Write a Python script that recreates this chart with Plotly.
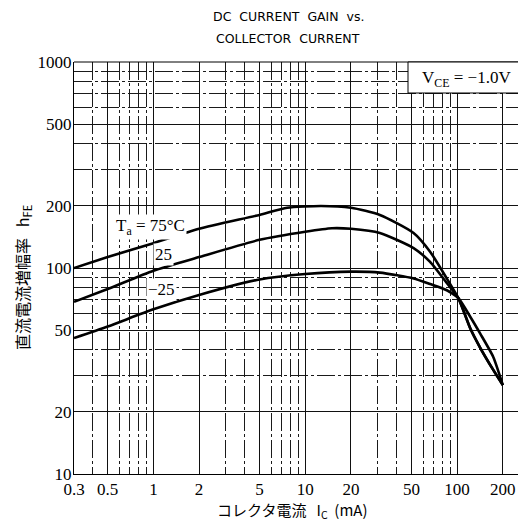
import plotly.graph_objects as go
import numpy as np

# ---- data ----
ic_75 = [0.3, 0.5, 1, 2, 5, 7.6, 12.7, 20, 31, 51.7, 66.4, 85.5, 102, 122, 142, 173, 200]
hfe_75 = [100, 113, 132, 155, 181, 196, 200, 196, 181, 148, 120, 89, 71.3, 51, 41, 32, 27]

ic_25 = [0.3, 0.5, 1, 2, 5, 10, 15, 20, 31, 51.7, 66.4, 85.5, 102, 122, 142, 173, 200]
hfe_25 = [68.5, 79, 97, 113, 137, 150, 156, 155, 148, 125, 107, 84.5, 71.3, 51, 41, 32, 27]

ic_m25 = [0.3, 0.5, 1, 2, 5, 10, 20, 31, 51.7, 66.4, 85.5, 102, 122, 142, 173, 200]
hfe_m25 = [45.7, 52, 63, 74, 88, 93.5, 96, 95, 89, 83.6, 78, 71.3, 58, 48, 37, 27]

x_major = [0.3, 0.5, 1, 2, 5, 10, 20, 50, 100, 200]
x_major_text = ["0.3", "0.5", "1", "2", "5", "10", "20", "50", "100", "200"]
y_major = [10, 20, 50, 100, 200, 500, 1000]
y_major_text = ["10", "20", "50", "100", "200", "500", "1000"]

x_minor = [m * d for d in [0.1, 1, 10, 100] for m in range(1, 10)
           if 0.3 <= m * d <= 300 and not any(abs(m * d - v) < 1e-9 for v in x_major)]
y_minor = [m * d for d in [10, 100] for m in range(1, 10)
           if not any(abs(m * d - v) < 1e-9 for v in y_major)]

fig = go.Figure()
for xs, ys in [(ic_75, hfe_75), (ic_25, hfe_25), (ic_m25, hfe_m25)]:
    fig.add_trace(go.Scatter(x=xs, y=ys, mode="lines",
                             line=dict(color="black", width=2.6, shape="spline", smoothing=0.6),
                             showlegend=False, hoverinfo="skip"))

serif = "Liberation Serif, Times New Roman, serif"
dash = "18px,3px,3px,3px"
fig.update_layout(
    width=510, height=514,
    margin=dict(l=66, r=0, t=54, b=48, pad=0),
    paper_bgcolor="white", plot_bgcolor="white",
    font=dict(family=serif, size=17, color="black"),
    xaxis=dict(type="log", range=[np.log10(0.3), 2.401],
               tickmode="array", tickvals=x_major, ticktext=x_major_text,
               showgrid=True, gridcolor="#111", gridwidth=1,
               showline=True, linecolor="black", linewidth=1,
               ticks="", tickfont=dict(family=serif, size=17),
               minor=dict(tickmode="array", tickvals=x_minor, showgrid=True,
                          gridcolor="#1a1a1a", gridwidth=1, griddash=dash, ticks=""),
               zeroline=False),
    yaxis=dict(type="log", range=[1, 3],
               tickmode="array", tickvals=y_major, ticktext=y_major_text,
               showgrid=True, gridcolor="#111", gridwidth=1,
               showline=True, linecolor="black", linewidth=1,
               ticks="", tickfont=dict(family=serif, size=17), ticklabelstandoff=-2,
               minor=dict(tickmode="array", tickvals=y_minor, showgrid=True,
                          gridcolor="#1a1a1a", gridwidth=1, griddash=dash, ticks=""),
               zeroline=False),
)

# top border line
fig.add_shape(type="line", xref="paper", yref="paper", x0=0, x1=1, y0=1, y1=1,
              line=dict(color="black", width=1))

# V_CE box (screen px 408 .. right edge, 62 .. 93)
fig.add_shape(type="rect", xref="paper", yref="paper", x0=(408 - 74) / 444, x1=1.02,
              y0=(474 - 93) / 412, y1=1.0,
              fillcolor="white", line=dict(color="black", width=1), layer="above")
fig.add_annotation(xref="paper", yref="paper", x=(466 - 74) / 444, y=(474 - 79) / 412,
                   xanchor="center", yanchor="middle",
                   text="V<sub>CE</sub> = −1.0V", showarrow=False,
                   font=dict(family=serif, size=17))

# curve labels
lab = dict(showarrow=False, bgcolor="white", xanchor="center", yanchor="middle",
           font=dict(family=serif, size=17))
fig.add_annotation(x=np.log10(0.95), y=np.log10(158), text="T<sub>a</sub> = 75°C", **lab)
fig.add_annotation(x=np.log10(1.16), y=np.log10(116), text="25", **lab)
fig.add_annotation(x=np.log10(1.13), y=np.log10(79), text="−25", **lab)

# title
tfont = dict(family="DejaVu Sans, sans-serif", size=12.5)
fig.add_annotation(xref="paper", yref="paper", x=(288 - 74) / 444, y=(474 - 17) / 412,
                   xanchor="center", yanchor="middle",
                   text="DC  CURRENT  GAIN  vs.", showarrow=False, font=tfont)
fig.add_annotation(xref="paper", yref="paper", x=(288 - 74) / 444, y=(474 - 39) / 412,
                   xanchor="center", yanchor="middle",
                   text="COLLECTOR  CURRENT", showarrow=False, font=tfont)

# axis titles
jfont = dict(family="Noto Sans CJK JP, serif", size=16)
fig.add_annotation(xref="paper", yref="paper", x=(22 - 74) / 444, y=(474 - 278) / 412,
                   xanchor="center", yanchor="middle",
                   text="直流電流増幅率   h<sub>FE</sub>", textangle=-90, showarrow=False, font=jfont)
fig.add_annotation(xref="paper", yref="paper", x=(292 - 74) / 444, y=(474 - 510) / 412,
                   xanchor="center", yanchor="middle",
                   text="コレクタ電流   I<sub>C</sub>  (mA)", showarrow=False,
                   font=dict(family="Noto Sans CJK JP, serif", size=15))

fig.write_html("out.html")
